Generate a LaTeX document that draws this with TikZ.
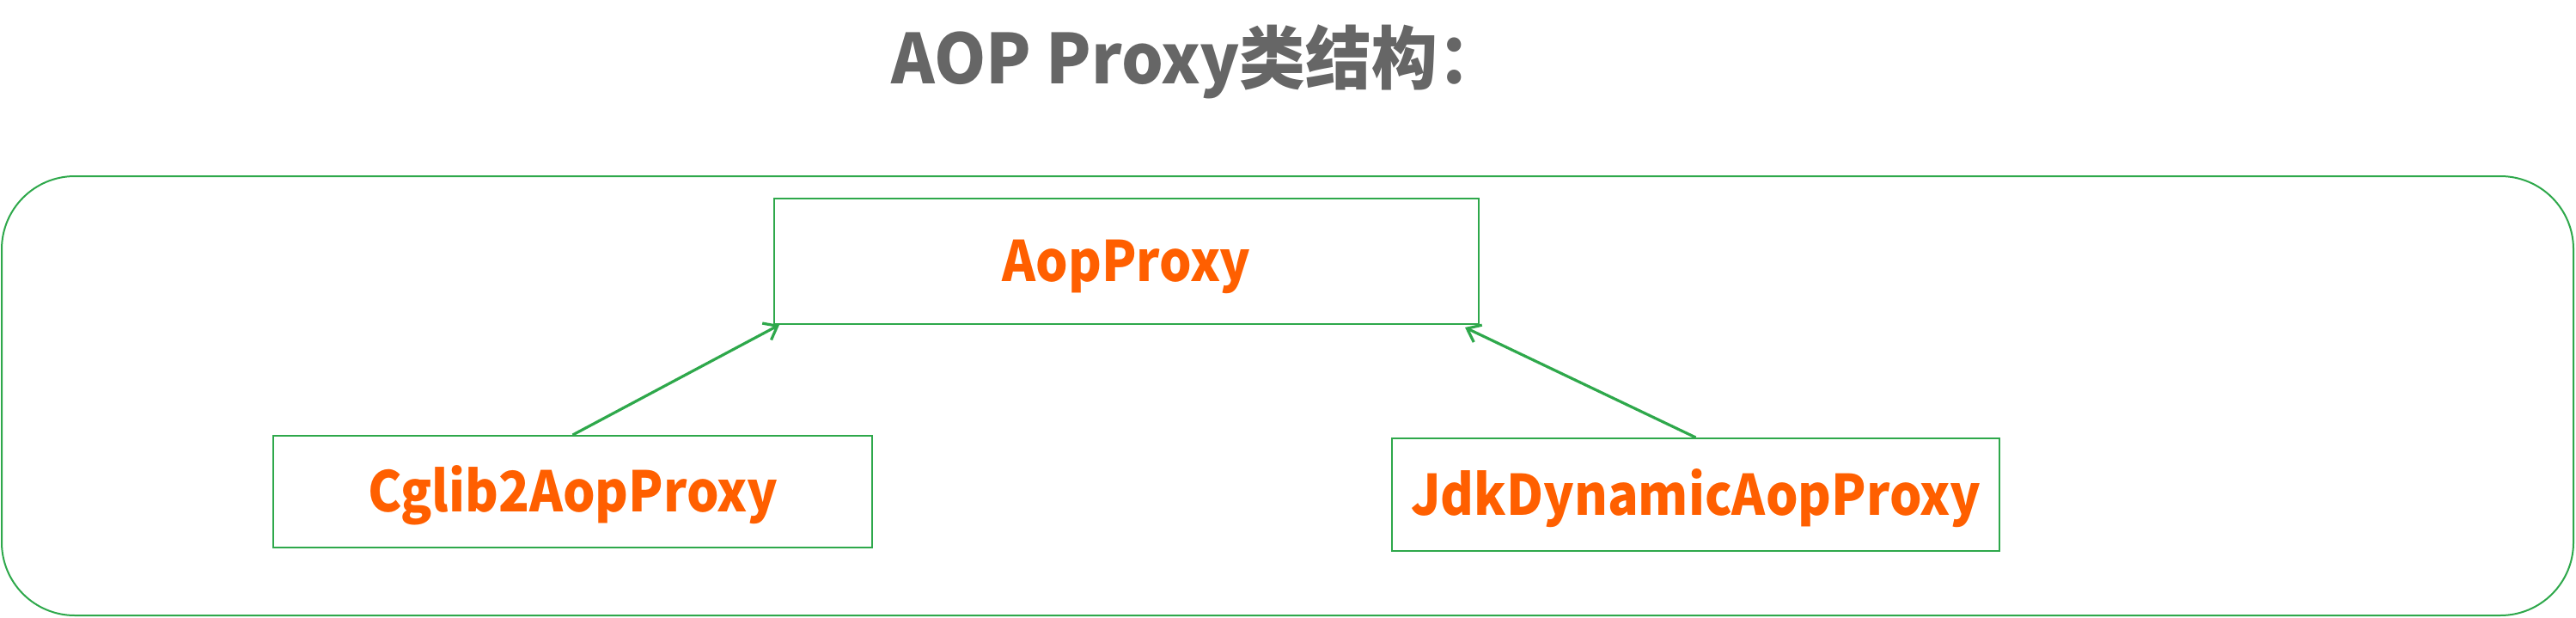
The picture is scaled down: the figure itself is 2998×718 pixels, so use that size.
\documentclass[tikz,border=0pt]{standalone}
\usepackage{fontspec}
\newfontfamily\cjk{Noto Sans CJK SC}[FakeStretch=0.91]
\newfontfamily\cjkt{Noto Sans CJK SC}[FakeStretch=0.96]
\usetikzlibrary{arrows.meta,calc}
\definecolor{grn}{HTML}{2EA84B}
\definecolor{org}{HTML}{FF5F00}
\definecolor{gry}{HTML}{666666}
\tikzset{
  cls/.style={draw=grn, line width=1pt, rectangle, inner sep=0pt, text=org,
    font=\cjk\bfseries\fontsize{32.5}{32.5}\selectfont, text height=23.8pt, text depth=0pt},
  inh/.style={draw=grn, line width=1.6pt, -{Straight Barb[length=7pt,width=11pt]}}
}
\begin{document}
\begin{tikzpicture}[x=0.5pt,y=-0.5pt]
\useasboundingbox (0,0) rectangle (2998,718);
\node[text=gry, font=\cjkt\bfseries\fontsize{40}{40}\selectfont, inner sep=0pt, anchor=base west] (title) at (1037,97) {AOP Proxy类结构：};
\node[draw=grn, line width=1pt, rounded corners=42.5pt, minimum width=1496.5pt, minimum height=255.5pt, inner sep=0pt] (outer) at (1498.5,460.5) {};
\node[cls, minimum width=410pt, minimum height=73pt] (aop) at (1311,304) {AopProxy};
\node[cls, minimum width=348.5pt, minimum height=65pt] (cglib) at (666.5,572) {Cglib2AopProxy};
\node[cls, minimum width=353.5pt, minimum height=65.5pt] (jdk) at (1973.5,575.5) {JdkDynamicAopProxy};
\coordinate (t1) at ($(aop.south west)+(7,0)$);
\coordinate (t2) at ($(aop.south east)+(-17,3)$);
\draw[inh] (cglib.north) -- (t1);
\draw[inh] (jdk.north) -- (t2);
\end{tikzpicture}
\end{document}
